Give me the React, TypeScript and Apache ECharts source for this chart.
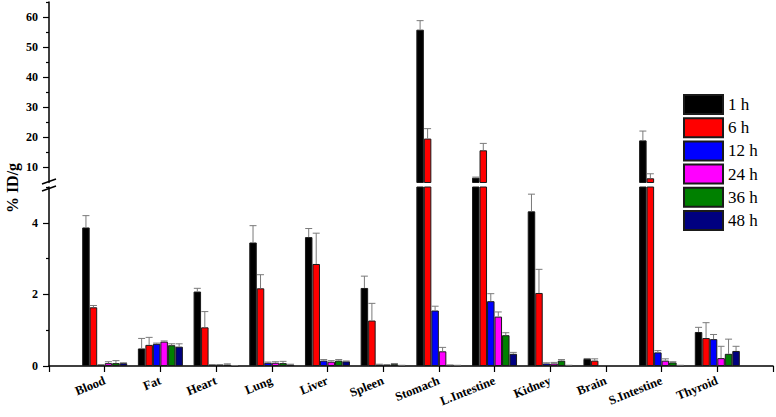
import React, { useEffect, useRef } from "react";
import * as echarts from "echarts";

const organs = ["", "Blood", "Fat", "Heart", "Lung", "Liver", "Spleen", "Stomach", "L.Intestine", "Kidney", "Brain", "S.Intestine", "Thyroid", ""];
const seriesNames = ["1 h", "6 h", "12 h", "24 h", "36 h", "48 h"];
const colors = ["#000000", "#ff0000", "#0000ff", "#ff00ff", "#008000", "#000080"];

// values per time point (null = no bar), padded at both ends for the empty axis slots
const v1h = [null, 3.87, 0.49, 2.08, 3.45, 3.6, 2.18, 55.8, 6.6, 4.32, 0.2, 19.0, 0.95, null];
const v6h = [null, 1.64, 0.59, 1.08, 2.17, 2.85, 1.27, 19.6, 15.7, 2.04, 0.15, 6.4, 0.78, null];
const v12h = [null, 0.03, 0.62, 0.03, 0.09, 0.15, 0.04, 1.55, 1.81, 0.07, null, 0.38, 0.75, null];
const v24h = [null, 0.08, 0.68, 0.03, 0.09, 0.12, 0.03, 0.41, 1.38, 0.07, null, 0.15, 0.22, null];
const v36h = [null, 0.08, 0.58, 0.04, 0.08, 0.15, 0.05, 0.02, 0.86, 0.15, null, 0.1, 0.34, null];
const v48h = [null, 0.08, 0.54, 0.01, 0.04, 0.13, 0.02, 0.02, 0.34, 0.02, null, 0.02, 0.42, null];

// error bar magnitudes (upper only)
const e1h = [null, 0.33, 0.28, 0.09, 0.47, 0.24, 0.33, 3.0, 0.2, 0.48, 0.01, 3.1, 0.13, null];
const e6h = [null, 0.05, 0.21, 0.44, 0.38, 0.86, 0.48, 3.3, 2.3, 0.66, 0.05, 1.5, 0.43, null];
const e12h = [null, 0.01, 0.02, 0.01, 0.02, 0.03, 0.01, 0.12, 0.21, 0.02, null, 0.05, 0.13, null];
const e24h = [null, 0.04, 0.02, 0.01, 0.03, 0.03, 0.01, 0.11, 0.13, 0.03, null, 0.05, 0.33, null];
const e36h = [null, 0.07, 0.04, 0.02, 0.05, 0.03, 0.02, 0.01, 0.07, 0.03, null, 0.02, 0.41, null];
const e48h = [null, 0.01, 0.08, 0.0, 0.01, 0.01, 0.0, 0.0, 0.04, 0.0, null, 0.0, 0.13, null];

const values = [v1h, v6h, v12h, v24h, v36h, v48h];
const errors = [e1h, e6h, e12h, e24h, e36h, e48h];

const BREAK = 5;
const TOP = 65;
const lowerMajorTicks = [0, 2, 4];
const lowerMinorTicks = [1, 3, 5];
const upperMajorTicks = [10, 20, 30, 40, 50, 60];
const upperMinorTicks = [15, 25, 35, 45, 55, 65];

const BAR_W = 7.5;
const SERIF = '"Liberation Serif", "Times New Roman", serif';

export default function App() {
  const ref = useRef<HTMLDivElement>(null);
  useEffect(() => {
    if (!ref.current) return;
    const chart = echarts.init(ref.current, null, { renderer: "svg" });

    const lowerErr: any[] = [];
    const upperErr: any[] = [];
    values.forEach((arr, s) => {
      arr.forEach((v, i) => {
        const e = errors[s][i];
        if (v == null || e == null) return;
        if (v < BREAK) lowerErr.push([i, v, Math.min(e, BREAK - v), s]);
        if (v + e > BREAK) upperErr.push([i, Math.max(v, BREAK), v + e - Math.max(v, BREAK), s]);
      });
    });

    const renderErr = (params: any, api: any) => {
      const cat = api.value(0);
      const v = api.value(1);
      const e = api.value(2);
      const s = api.value(3);
      const p0 = api.coord([cat, v]);
      const p1 = api.coord([cat, v + e]);
      const x = p0[0] + (s - 2.5) * BAR_W;
      const style = { stroke: "#7a7a7a", lineWidth: 1 };
      return {
        type: "group",
        children: [
          { type: "line", shape: { x1: x, y1: p0[1], x2: x, y2: p1[1] }, style },
          { type: "line", shape: { x1: x - 3.5, y1: p1[1], x2: x + 3.5, y2: p1[1] }, style },
        ],
      };
    };

    const barSeries = (gridIdx: number) =>
      values.map((arr, s) => ({
        type: "bar",
        name: seriesNames[s],
        xAxisIndex: gridIdx,
        yAxisIndex: gridIdx,
        data: arr.map((v) => (v == null ? "-" : gridIdx === 1 && v <= BREAK ? "-" : v)),
        barWidth: BAR_W,
        barGap: "0%",
        clip: true,
        itemStyle: { color: colors[s], borderColor: "#1a1a1a", borderWidth: 1 },
      }));

    const yMain = (grid: number, min: number, max: number, ticks: number[]) => ({
      type: "value",
      gridIndex: grid,
      min,
      max,
      position: "left",
      axisLine: { show: true, lineStyle: { color: "#000", width: 1.5 } },
      axisTick: { show: true, customValues: ticks, length: 6, lineStyle: { color: "#000", width: 1.2 } },
      axisLabel: {
        customValues: ticks,
        color: "#000",
        fontFamily: SERIF,
        fontWeight: "bold",
        fontSize: 12,
        margin: 11,
      },
      splitLine: { show: false },
    });
    const yMinor = (grid: number, min: number, max: number, ticks: number[]) => ({
      type: "value",
      gridIndex: grid,
      min,
      max,
      position: "left",
      offset: 0,
      axisLine: { show: false },
      axisTick: { show: true, customValues: ticks, length: 3, lineStyle: { color: "#000", width: 1.2 } },
      axisLabel: { show: false },
      splitLine: { show: false },
    });

    chart.setOption({
      animation: false,
      backgroundColor: "#fff",
      grid: [
        { left: 49, top: 187, width: 724, height: 179 },
        { left: 49, top: 2, width: 724, height: 180.5 },
      ],
      xAxis: [
        {
          type: "category",
          gridIndex: 0,
          data: organs,
          boundaryGap: false,
          axisLine: { show: true, lineStyle: { color: "#000", width: 1.5 } },
          axisTick: { show: true, interval: 0, length: 6, lineStyle: { color: "#000", width: 1.2 } },
          axisLabel: {
            interval: 0,
            rotate: 22,
            margin: 14,
            color: "#000",
            fontFamily: SERIF,
            fontWeight: "bold",
            fontSize: 12.5,
          },
          splitLine: { show: false },
        },
        {
          type: "category",
          gridIndex: 1,
          data: organs,
          boundaryGap: false,
          show: false,
        },
      ],
      yAxis: [
        yMain(0, 0, BREAK, lowerMajorTicks),
        yMain(1, BREAK, TOP, upperMajorTicks),
        yMinor(0, 0, BREAK, lowerMinorTicks),
        yMinor(1, BREAK, TOP, upperMinorTicks),
      ],
      legend: {
        data: seriesNames,
        orient: "vertical",
        left: 678,
        top: 89,
        itemWidth: 39,
        itemHeight: 19,
        itemGap: 2.2,
        icon: "rect",
        textStyle: { color: "#000", fontFamily: SERIF, fontSize: 17 },
      },
      graphic: [
        {
          type: "text",
          x: 12,
          y: 188,
          rotation: Math.PI / 2,
          style: {
            text: "% ID/g",
            font: 'bold 16px "Liberation Serif", serif',
            fill: "#000",
            align: "center",
            verticalAlign: "middle",
          },
        },
        { type: "line", shape: { x1: 42, y1: 184, x2: 56, y2: 179 }, style: { stroke: "#000", lineWidth: 1.5 } },
        { type: "line", shape: { x1: 42, y1: 191, x2: 56, y2: 186 }, style: { stroke: "#000", lineWidth: 1.5 } },
      ],
      series: [
        ...barSeries(0),
        ...barSeries(1),
        {
          type: "custom",
          xAxisIndex: 0,
          yAxisIndex: 0,
          clip: true,
          silent: true,
          data: lowerErr,
          renderItem: renderErr,
          z: 3,
        },
        {
          type: "custom",
          xAxisIndex: 1,
          yAxisIndex: 1,
          clip: true,
          silent: true,
          data: upperErr,
          renderItem: renderErr,
          z: 3,
        },
      ],
    });
    return () => chart.dispose();
  }, []);
  return (
    <div
      ref={ref}
      style={{ position: "fixed", left: 0, top: 0, width: 776, height: 417, background: "#fff" }}
    />
  );
}
